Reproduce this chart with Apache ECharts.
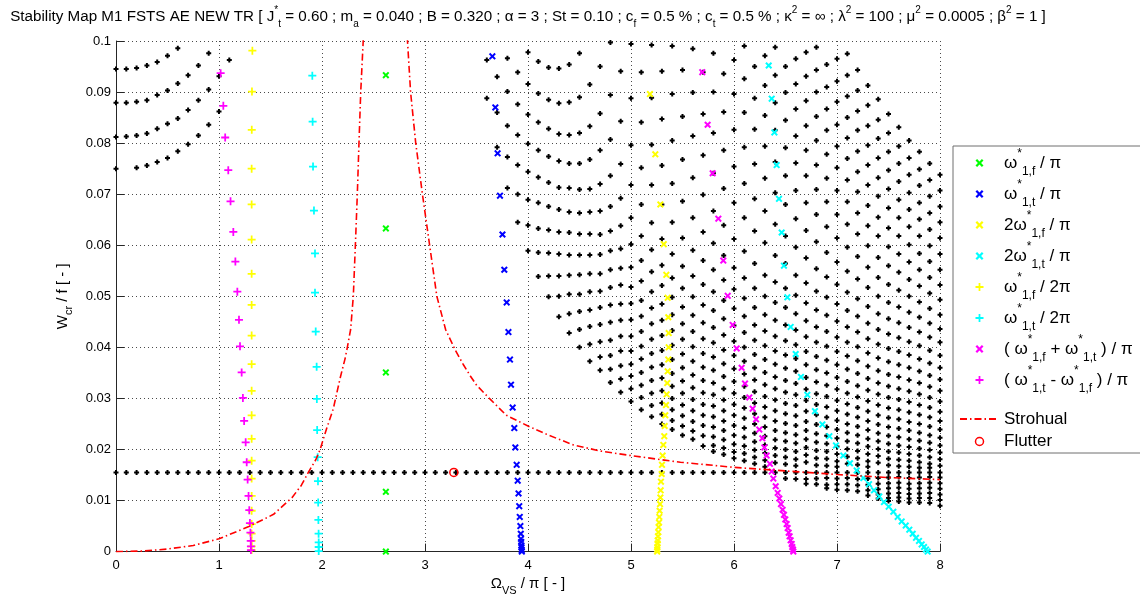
<!DOCTYPE html>
<html>
<head>
<meta charset="utf-8">
<title>Stability Map M1 FSTS AE NEW TR</title>
<script src="https://cdn.jsdelivr.net/npm/echarts@6/dist/echarts.min.js"></script>
<style>
  html, body { margin: 0; padding: 0; background: #fff; }
  #chart { width: 1140px; height: 601px; }
</style>
</head>
<body>
<div id="chart"></div>
<script>
// ---------------------------------------------------------------
// Stability map data. Abscissa: Omega_VS / pi, ordinate: W_cr / f.
// Ordinates below are stored in thousandths (x 1e-3).
// ---------------------------------------------------------------

// Abscissae of the columns of unstable grid points
const dotColumnsX = [
  0.0, 0.1, 0.2, 0.3, 0.4, 0.5, 0.6, 0.7, 0.8, 0.9, 1.0, 1.1,
  3.6, 3.7, 3.8, 3.9, 4.0, 4.1, 4.2, 4.3, 4.4, 4.5, 4.6, 4.7, 4.8, 4.9,
  5.0, 5.1, 5.2, 5.3, 5.4, 5.5, 5.6, 5.7, 5.8, 5.9,
  6.0, 6.1, 6.2, 6.3, 6.4, 6.5, 6.6, 6.7, 6.8, 6.9,
  7.0, 7.1, 7.2, 7.3, 7.4, 7.5, 7.6, 7.7, 7.8, 7.9, 8.0
];

// Ordinates (x 1e-3) of the unstable grid points, one list per column
const dotColumnsY = [
  [94.5, 87.9, 81.2, 75.0],
  [94.5, 87.9, 81.3],
  [94.7, 88.1, 81.5, 75.2],
  [95.2, 88.4, 81.9, 75.6],
  [95.9, 89.4, 82.8, 76.3],
  [97.1, 90.3, 83.8, 77.1],
  [98.6, 91.7, 84.8, 78.4],
  [93.3, 86.5, 79.8],
  [95.2, 88.4, 81.5],
  [97.6, 90.5, 83.6],
  [93.1, 86.2],
  [96.3],
  [96.3, 88.8],
  [93.0, 86.0, 79.2],
  [96.6, 90.1, 83.4, 77.3, 71.2],
  [93.9, 87.6, 81.6, 75.7, 70.0, 64.5],
  [97.8, 91.6, 85.6, 79.9, 74.4, 68.9, 63.9, 58.9],
  [96.0, 89.7, 84.1, 78.6, 73.3, 68.3, 63.3, 58.6, 53.9],
  [94.8, 88.5, 82.8, 77.4, 72.3, 67.6, 63.0, 58.5, 54.0, 49.9],
  [94.6, 87.8, 81.8, 76.5, 71.3, 67.0, 62.6, 58.3, 54.0, 50.0, 46.0],
  [95.4, 88.0, 81.6, 76.0, 71.2, 66.5, 62.5, 58.1, 54.1, 50.4, 46.6, 42.8],
  [97.6, 89.0, 82.0, 76.0, 70.9, 66.3, 62.2, 58.1, 54.2, 50.4, 47.0, 43.5, 40.0],
  [91.5, 83.3, 76.8, 71.0, 66.5, 62.2, 58.1, 54.4, 50.9, 47.3, 44.1, 40.6, 37.3],
  [95.0, 85.8, 78.6, 72.0, 66.7, 62.1, 58.2, 54.4, 51.0, 47.8, 44.5, 41.1, 38.1, 35.5],
  [99.7, 89.4, 80.7, 73.6, 67.6, 62.8, 58.9, 55.2, 51.7, 48.3, 44.9, 41.4, 38.4, 35.7, 33.1],
  [94.1, 84.3, 75.9, 69.2, 63.8, 59.3, 55.5, 52.2, 48.5, 45.3, 42.2, 39.3, 36.4, 33.8, 31.2],
  [99.4, 88.8, 79.6, 71.8, 65.4, 60.2, 55.7, 51.8, 48.6, 45.4, 42.2, 39.3, 36.7, 34.4, 31.9, 29.4],
  [93.9, 84.1, 75.2, 68.0, 61.8, 57.0, 53.0, 49.2, 46.1, 43.1, 40.2, 37.7, 35.1, 32.6, 30.2, 27.8],
  [99.2, 88.9, 79.7, 71.8, 64.4, 59.1, 54.8, 50.9, 47.7, 44.6, 41.6, 38.8, 36.1, 33.5, 31.0, 28.6, 26.4],
  [94.1, 84.7, 75.6, 68.0, 61.2, 56.1, 52.1, 48.5, 45.3, 42.3, 39.4, 36.6, 34.0, 31.5, 29.1, 26.9, 25.0],
  [99.0, 89.6, 80.5, 72.1, 64.5, 58.3, 53.6, 49.8, 46.4, 43.3, 40.4, 37.6, 34.9, 32.4, 30.0, 27.8, 25.7, 23.9],
  [94.3, 85.2, 76.8, 68.6, 61.4, 55.9, 51.6, 47.9, 44.6, 41.6, 38.7, 36.0, 33.4, 31.0, 28.7, 26.6, 24.6, 22.8],
  [98.5, 89.9, 81.4, 73.2, 65.4, 59.0, 54.0, 49.9, 46.3, 43.1, 40.1, 37.3, 34.6, 32.1, 29.8, 27.6, 25.5, 23.6, 22.0],
  [93.9, 85.7, 77.6, 69.9, 62.6, 57.0, 52.3, 48.3, 44.8, 41.7, 38.8, 36.1, 33.5, 31.1, 28.8, 26.7, 24.7, 22.7, 20.7],
  [97.6, 90.0, 82.0, 74.1, 66.7, 60.4, 55.2, 50.9, 47.2, 43.9, 40.9, 38.1, 35.5, 33.0, 30.7, 28.5, 26.4, 24.4, 22.5, 20.8, 19.6],
  [93.6, 86.1, 78.6, 71.1, 63.9, 58.0, 53.2, 49.2, 45.6, 42.4, 39.5, 36.8, 34.3, 31.9, 29.7, 27.6, 25.6, 23.7, 21.9, 20.3, 19.0],
  [96.3, 89.6, 82.6, 75.4, 68.3, 61.2, 55.6, 51.4, 47.6, 44.3, 41.2, 38.4, 35.8, 33.3, 31.0, 28.8, 26.7, 24.7, 22.8, 21.0, 19.5, 18.3],
  [99.0, 92.6, 86.0, 79.2, 72.1, 65.4, 58.8, 53.6, 49.6, 46.1, 42.9, 40.0, 37.3, 34.8, 32.4, 30.2, 28.1, 26.1, 24.2, 22.4, 20.7, 19.2, 17.8],
  [95.0, 88.8, 82.7, 75.9, 69.1, 62.8, 56.4, 51.6, 47.8, 44.4, 41.4, 38.6, 36.0, 33.6, 31.3, 29.1, 27.0, 25.0, 23.2, 21.5, 19.9, 18.5, 17.2],
  [97.1, 91.3, 85.4, 79.4, 73.1, 66.7, 60.5, 54.1, 50.0, 46.4, 43.2, 40.3, 37.6, 35.1, 32.7, 30.4, 28.3, 26.3, 24.4, 22.6, 20.9, 19.3, 17.9, 16.6],
  [98.8, 93.3, 87.9, 82.5, 76.3, 70.3, 64.1, 58.0, 52.8, 48.8, 45.3, 42.2, 39.3, 36.7, 34.2, 31.9, 29.7, 27.6, 25.6, 23.7, 21.9, 20.3, 18.8, 17.4],
  [95.0, 89.9, 84.5, 79.1, 73.6, 68.0, 61.8, 56.4, 51.6, 47.8, 44.4, 41.3, 38.5, 35.9, 33.5, 31.2, 29.0, 27.0, 25.1, 23.3, 21.6, 20.0, 18.5, 17.1, 14.3],
  [96.5, 91.6, 86.7, 81.4, 76.1, 70.7, 65.2, 59.6, 54.1, 50.2, 46.6, 43.4, 40.5, 37.8, 35.3, 32.9, 30.7, 28.6, 26.6, 24.7, 22.9, 21.2, 19.6, 18.1, 16.8, 14.2],
  [97.8, 93.1, 88.3, 83.4, 78.6, 73.6, 68.3, 62.9, 57.5, 52.6, 48.7, 45.2, 42.1, 39.2, 36.6, 34.1, 31.8, 29.6, 27.5, 25.5, 23.7, 22.0, 20.4, 18.9, 17.5, 14.2, 13.3],
  [98.8, 94.3, 90.0, 85.2, 80.5, 75.7, 70.9, 66.0, 60.7, 55.4, 51.0, 47.3, 44.0, 41.0, 38.2, 35.6, 33.2, 30.9, 28.8, 26.8, 24.9, 23.1, 21.4, 19.8, 18.3, 16.9, 14.3, 13.2],
  [95.4, 91.0, 86.7, 82.5, 77.8, 73.1, 68.5, 63.6, 58.6, 53.8, 49.8, 46.3, 43.1, 40.2, 37.5, 35.0, 32.6, 30.4, 28.3, 26.3, 24.4, 22.7, 21.1, 19.6, 18.2, 16.8, 14.4, 13.1, 12.4],
  [96.5, 92.1, 88.1, 83.6, 79.4, 75.2, 70.7, 66.0, 61.4, 56.7, 52.3, 48.5, 45.1, 42.0, 39.2, 36.6, 34.1, 31.8, 29.6, 27.6, 25.7, 23.9, 22.2, 20.6, 19.1, 17.7, 16.6, 14.3, 13.2, 12.1],
  [97.5, 93.3, 89.2, 85.0, 81.0, 77.0, 72.8, 68.5, 64.1, 59.6, 54.9, 50.8, 47.2, 44.0, 41.0, 38.3, 35.7, 33.3, 31.0, 28.9, 26.9, 25.0, 23.3, 21.6, 20.1, 18.6, 17.2, 14.4, 13.2, 12.0],
  [94.3, 90.3, 86.3, 82.5, 78.4, 74.4, 70.5, 66.3, 62.2, 57.8, 53.4, 49.5, 46.1, 43.0, 40.1, 37.4, 34.9, 32.5, 30.3, 28.2, 26.3, 24.5, 22.8, 21.2, 19.7, 18.3, 17.0, 14.2, 13.0, 11.8],
  [91.3, 87.4, 83.4, 79.6, 75.7, 71.8, 67.8, 63.8, 59.9, 55.7, 51.7, 48.0, 44.7, 41.7, 38.9, 36.3, 33.9, 31.6, 29.5, 27.5, 25.6, 23.8, 22.1, 20.6, 19.1, 17.7, 16.6, 14.3, 13.1, 12.0, 11.0],
  [88.6, 84.6, 80.9, 77.1, 73.2, 69.6, 65.5, 61.8, 57.6, 53.7, 50.0, 46.6, 43.5, 40.6, 37.9, 35.4, 33.0, 30.8, 28.7, 26.7, 24.9, 23.2, 21.6, 20.1, 18.7, 17.4, 14.4, 13.3, 12.2, 11.2, 10.4],
  [85.7, 82.0, 78.3, 74.7, 71.0, 67.3, 63.4, 59.7, 56.0, 52.3, 48.8, 45.6, 42.6, 39.8, 37.2, 34.7, 32.4, 30.2, 28.1, 26.2, 24.4, 22.7, 21.1, 19.6, 18.2, 16.9, 14.5, 13.4, 12.4, 11.4, 10.5, 9.9],
  [83.1, 79.4, 76.0, 72.5, 68.9, 65.4, 61.8, 58.3, 54.7, 51.2, 47.9, 44.8, 41.9, 39.2, 36.6, 34.2, 31.9, 29.8, 27.8, 25.9, 24.1, 22.4, 20.8, 19.4, 18.0, 16.7, 14.6, 13.5, 12.5, 11.5, 10.6, 9.8],
  [80.5, 77.1, 73.8, 70.3, 67.0, 63.6, 60.1, 56.7, 53.3, 50.0, 46.9, 43.9, 41.1, 38.5, 36.0, 33.6, 31.4, 29.3, 27.3, 25.4, 23.7, 22.0, 20.5, 19.1, 17.8, 16.6, 14.4, 13.3, 12.3, 11.3, 10.4, 9.6],
  [78.3, 74.9, 71.7, 68.3, 65.1, 61.8, 58.4, 55.2, 52.0, 48.9, 45.9, 43.0, 40.3, 37.7, 35.3, 33.0, 30.8, 28.7, 26.8, 25.0, 23.3, 21.7, 20.2, 18.8, 17.5, 16.4, 14.5, 13.4, 12.4, 11.4, 10.5, 9.6],
  [76.0, 72.8, 69.6, 66.3, 63.1, 59.9, 56.8, 53.7, 50.6, 47.6, 44.7, 42.0, 39.4, 36.9, 34.5, 32.3, 30.2, 28.2, 26.3, 24.5, 22.8, 21.3, 19.9, 18.5, 17.2, 16.4, 14.6, 13.5, 12.5, 11.5, 10.5, 9.5],
  [73.8, 70.7, 67.6, 64.5, 61.4, 58.3, 55.2, 52.2, 49.3, 46.4, 43.6, 41.0, 38.4, 36.0, 33.7, 31.5, 29.4, 27.4, 25.6, 23.9, 22.3, 20.8, 19.4, 18.1, 16.8, 14.5, 13.4, 12.3, 11.2, 10.1, 9.0]
];

// Horizontal row of unstable grid points running across the whole range
const rowLevel = 15.5;
const rowX = [
  0.0, 0.1, 0.2, 0.3, 0.4, 0.5, 0.6, 0.7, 0.8, 0.9,
  1.0, 1.1, 1.2, 1.3, 1.4, 1.5, 1.6, 1.7, 1.8, 1.9,
  2.0, 2.1, 2.2, 2.3, 2.4, 2.5, 2.6, 2.7, 2.8, 2.9,
  3.0, 3.1, 3.2, 3.3, 3.4, 3.5, 3.6, 3.7, 3.8, 3.9,
  4.0, 4.1, 4.2, 4.3, 4.4, 4.5, 4.6, 4.7, 4.8, 4.9,
  5.0, 5.1, 5.2, 5.3, 5.4, 5.5, 5.6, 5.7, 5.8, 5.9,
  6.0, 6.1, 6.2, 6.3, 6.4, 6.5, 6.6, 6.7, 6.8, 6.9,
  7.0, 7.1, 7.2, 7.3, 7.4, 7.5, 7.6, 7.7, 7.8, 7.9, 8.0
];

// Resonance lines, [Omega/pi, W/f x 1e-3]
const w1fPi = [[2.62, 93.3], [2.62, 63.3], [2.62, 35.1], [2.62, 11.7], [2.62, 0]];

const w1tPi = [
  [3.654, 97.0], [3.683, 87.0], [3.705, 78.0], [3.728, 69.7], [3.752, 62.1], [3.770, 55.2],
  [3.793, 48.8], [3.810, 43.0], [3.825, 37.6], [3.835, 32.7], [3.851, 28.2], [3.867, 24.2],
  [3.877, 20.4], [3.890, 17.0], [3.900, 13.9], [3.908, 11.4], [3.915, 8.9], [3.920, 6.8],
  [3.926, 5.0], [3.930, 3.5], [3.932, 2.5], [3.934, 1.9], [3.936, 1.2], [3.937, 0.8],
  [3.939, 0.3], [3.940, 0]
];

const twoW1fPi = [
  [5.184, 89.6], [5.236, 77.8], [5.285, 68.0], [5.318, 60.2], [5.343, 54.2], [5.356, 49.7],
  [5.362, 45.9], [5.366, 42.8], [5.366, 40.0], [5.362, 37.6], [5.356, 35.3], [5.352, 33.0],
  [5.346, 30.8], [5.340, 28.7], [5.333, 26.7], [5.327, 24.6], [5.323, 22.6], [5.314, 20.9],
  [5.307, 18.8], [5.301, 17.0], [5.298, 15.2], [5.291, 13.7], [5.288, 12.0], [5.285, 10.6],
  [5.282, 9.3], [5.278, 8.0], [5.275, 6.8], [5.272, 5.7], [5.268, 4.8], [5.265, 3.8],
  [5.262, 3.0], [5.260, 2.2], [5.258, 1.6], [5.256, 0.9], [5.255, 0.4], [5.254, 0]
];

const twoW1tPi = [
  [6.337, 95.2], [6.366, 88.7], [6.392, 82.1], [6.414, 75.7], [6.437, 69.1], [6.463, 62.5],
  [6.485, 56.0], [6.518, 49.8], [6.550, 44.0], [6.599, 38.7], [6.650, 34.2], [6.712, 30.7],
  [6.786, 27.5], [6.858, 24.9], [6.926, 22.6], [6.990, 20.8], [7.061, 18.8], [7.126, 17.3],
  [7.191, 15.9], [7.256, 14.4], [7.311, 13.2], [7.359, 12.0], [7.411, 10.8], [7.456, 9.7],
  [7.502, 8.8], [7.547, 7.8], [7.589, 6.8], [7.628, 5.9], [7.667, 5.1], [7.702, 4.3],
  [7.735, 3.5], [7.767, 2.7], [7.796, 2.1], [7.822, 1.4], [7.845, 0.9], [7.864, 0.4], [7.880, 0]
];

const w1fHalfPi = [
  [1.324, 98.1], [1.320, 90.1], [1.318, 82.6], [1.317, 75.0], [1.317, 68.0], [1.317, 61.1],
  [1.317, 54.4], [1.317, 48.3], [1.317, 42.3], [1.317, 36.7], [1.317, 31.5], [1.317, 26.7],
  [1.317, 22.1], [1.317, 17.8], [1.317, 14.3], [1.317, 10.9], [1.317, 8.0], [1.317, 5.4],
  [1.317, 3.5], [1.317, 2.1], [1.317, 1.0], [1.317, 0.3]
];

const w1tHalfPi = [
  [1.906, 93.2], [1.909, 84.2], [1.913, 75.4], [1.922, 66.8], [1.932, 58.4], [1.932, 50.7],
  [1.939, 43.1], [1.948, 36.2], [1.950, 29.9], [1.953, 23.8], [1.958, 18.5], [1.961, 13.8],
  [1.963, 9.6], [1.965, 6.2], [1.967, 3.5], [1.968, 1.8], [1.968, 0.9], [1.968, 0.1]
];

const sumPi = [
  [5.692, 93.9], [5.744, 83.6], [5.793, 74.1], [5.848, 65.2], [5.896, 57.0], [5.939, 50.1],
  [5.987, 44.4], [6.026, 39.8], [6.074, 36.0], [6.107, 32.9], [6.149, 30.2], [6.181, 28.0],
  [6.214, 25.9], [6.246, 23.9], [6.275, 22.2], [6.295, 20.4], [6.317, 18.8], [6.349, 17.2],
  [6.366, 15.7], [6.382, 14.3], [6.405, 12.8], [6.424, 11.5], [6.440, 10.4], [6.456, 9.3],
  [6.472, 8.2], [6.485, 7.2], [6.498, 6.3], [6.511, 5.4], [6.521, 4.6], [6.531, 3.7],
  [6.540, 3.0], [6.550, 2.2], [6.560, 1.5], [6.566, 0.9], [6.573, 0.4], [6.576, 0]
];

const diffPi = [
  [1.016, 93.7], [1.042, 87.3], [1.060, 81.1], [1.090, 74.7], [1.112, 68.6], [1.139, 62.6],
  [1.159, 56.8], [1.178, 50.9], [1.194, 45.4], [1.204, 40.2], [1.220, 35.1], [1.232, 30.1],
  [1.244, 25.6], [1.259, 21.4], [1.269, 17.5], [1.278, 14.1], [1.287, 10.9], [1.294, 8.1],
  [1.300, 5.6], [1.305, 3.7], [1.308, 2.1], [1.310, 1.0], [1.310, 0.3]
];

// Strouhal line, branch below and branch beyond the vertical asymptote
const strouhalLow = [
  [0, 0], [0.25, 0.1], [0.5, 0.5], [0.75, 1.2], [1.0, 2.5], [1.29, 4.9], [1.53, 7.3],
  [1.71, 10.6], [1.80, 13.0], [1.867, 15.5], [1.94, 18.0], [1.98, 19.9], [2.045, 24.1],
  [2.11, 28.0], [2.142, 30.9], [2.18, 34.3], [2.223, 37.7], [2.246, 40.0], [2.278, 43.5],
  [2.304, 50.0], [2.324, 60.0], [2.343, 70.0], [2.359, 80.0], [2.376, 90.0], [2.40, 100.0],
  [2.43, 115.0]
];
const strouhalHigh = [
  [2.81, 115.0], [2.83, 100.0], [2.86, 90.0], [2.91, 80.0], [2.975, 70.0], [3.045, 60.0],
  [3.115, 50.0], [3.20, 43.5], [3.29, 39.6], [3.37, 36.7], [3.44, 34.4], [3.50, 32.6],
  [3.63, 29.9], [3.79, 26.7], [4.0, 24.6], [4.2, 22.8], [4.44, 20.9], [4.7, 19.7],
  [5.0, 18.8], [5.48, 17.5], [6.0, 16.5], [6.5, 15.8], [7.0, 15.1], [7.5, 14.5], [8.0, 14.1]
];

// Flutter onset
const flutterPt = [[3.28, 15.5]];

// Axis ticks
const xTicks = { min: 0, max: 8, step: 1 };
const yTicks = { min: 0, max: 0.1, step: 0.01 };

// ---------------------------------------------------------------
const FONT = 'Liberation Sans, Arial, Helvetica, sans-serif';
const perMille = pts => pts.map(p => [p[0], p[1] / 1000]);

const gridPoints = [];
dotColumnsX.forEach((x, i) => {
  dotColumnsY[i].forEach(v => gridPoints.push([x, v / 1000]));
});
rowX.forEach(x => gridPoints.push([x, rowLevel / 1000]));

// Marker shapes
const DOT = 'path://M1.5,0H3.5V1.5H5V3.5H3.5V5H1.5V3.5H0V1.5H1.5Z';
const CROSS = 'path://M0,2L2,0L5,3L8,0L10,2L7,5L10,8L8,10L5,7L2,10L0,8L3,5Z';
const PLUS = 'path://M3.9,0H6.1V3.9H10V6.1H6.1V10H3.9V6.1H0V3.9H3.9Z';

const GREEN = '#00ff00', BLUE = '#0000ff', YELLOW = '#ffff00',
      CYAN = '#00ffff', MAGENTA = '#ff00ff', RED = '#ff0000';

function markerSeries(name, pts, symbol, size, color) {
  return {
    name, type: 'scatter', data: perMille(pts), symbol, symbolSize: size,
    itemStyle: { color, opacity: 1 }, silent: true, z: 3
  };
}

// Legend labels; the empty spacer boxes after "Strohual" widen that row upwards
const legendText = {
  s1: '{m|ω}{p|*}{s|1,f}{m| / π}',
  s2: '{m|ω}{p|*}{s|1,t}{m| / π}',
  s3: '{m|2ω}{p|*}{s|1,f}{m| / π}',
  s4: '{m|2ω}{p|*}{s|1,t}{m| / π}',
  s5: '{m|ω}{p|*}{s|1,f}{m| / 2π}',
  s6: '{m|ω}{p|*}{s|1,t}{m| / 2π}',
  s7: '{m|( ω}{p|*}{s|1,f}{m| + ω}{p|*}{s|1,t}{m| ) / π}',
  s8: '{m|( ω}{p|*}{s|1,t}{m| - ω}{p|*}{s|1,f}{m| ) / π}',
  st: '{ls|Strohual}{up|\u200b}{mid|\u200b}',
  fl: '{lf|Flutter}'
};

const titleText =
  '{t|Stability Map M1 FSTS AE NEW TR [ J}{tp|*}{ts|t}{t| = 0.60 ; m}{ts|a}' +
  '{t| = 0.040 ; B = 0.320 ; α = 3 ; St = 0.10 ; c}{ts|f}{t| = 0.5 % ; c}{ts|t}' +
  '{t| = 0.5 % ; κ}{tp|2}{t| = ∞ ; λ}{tp|2}{t| = 100 ; μ}{tp|2}{t| = 0.0005 ; β}{tp|2}{t| = 1 ]}';

const chart = echarts.init(document.getElementById('chart'), null, { renderer: 'canvas' });

const strouhalStyle = { color: RED, width: 1.6, type: [7, 3, 1.5, 3] };

chart.setOption({
  animation: false,
  backgroundColor: '#fff',
  title: {
    text: titleText,
    left: 523,
    top: 0,
    textAlign: 'center',
    textStyle: {
      fontFamily: FONT, fontWeight: 'normal', color: '#000',
      rich: {
        t: { fontFamily: FONT, fontSize: 15.2, lineHeight: 24, color: '#000' },
        tp: { fontFamily: FONT, fontSize: 10, lineHeight: 16, verticalAlign: 'top', color: '#000' },
        ts: { fontFamily: FONT, fontSize: 10, lineHeight: 10, verticalAlign: 'bottom', color: '#000' }
      }
    }
  },
  grid: { left: 116, right: 200, top: 41, bottom: 43, containLabel: false },
  xAxis: {
    type: 'value', min: xTicks.min, max: xTicks.max, interval: xTicks.step,
    name: '{m|Ω}{s|VS}{m| / π [ - ]}',
    nameLocation: 'middle', nameGap: 18,
    nameTextStyle: {
      rich: {
        m: { fontFamily: FONT, fontSize: 15, lineHeight: 24, color: '#000' },
        s: { fontFamily: FONT, fontSize: 11, lineHeight: 10, verticalAlign: 'bottom', color: '#000' }
      }
    },
    axisLine: { show: true, onZero: false, lineStyle: { color: '#262626', width: 1 } },
    axisTick: { show: true, inside: true, length: 8, lineStyle: { color: '#262626' } },
    axisLabel: { fontFamily: FONT, fontSize: 13, color: '#000', margin: 7 },
    splitLine: { show: true, lineStyle: { color: '#4a4a4a', width: 1, type: [1, 3] } }
  },
  yAxis: {
    type: 'value', min: yTicks.min, max: yTicks.max, interval: yTicks.step,
    name: '{m|W}{s|cr}{m| / f [ - ]}',
    nameLocation: 'middle', nameGap: 34,
    nameTextStyle: {
      rich: {
        m: { fontFamily: FONT, fontSize: 15, lineHeight: 24, color: '#000' },
        s: { fontFamily: FONT, fontSize: 11, lineHeight: 10, verticalAlign: 'bottom', color: '#000' }
      }
    },
    axisLine: { show: true, onZero: false, lineStyle: { color: '#262626', width: 1 } },
    axisTick: { show: true, inside: true, length: 8, lineStyle: { color: '#262626' } },
    axisLabel: {
      fontFamily: FONT, fontSize: 13, color: '#000', margin: 5,
      formatter: v => String(parseFloat(v.toFixed(3)))
    },
    splitLine: { show: true, lineStyle: { color: '#4a4a4a', width: 1, type: [1, 3] } }
  },
  legend: {
    orient: 'vertical',
    left: 953, top: 146,
    padding: [2, 60, 3, 6],
    itemWidth: 39, itemHeight: 8, itemGap: 1,
    backgroundColor: '#fff',
    borderColor: '#6e6e6e', borderWidth: 1, borderRadius: 0,
    selectedMode: false,
    data: [
      { name: 's1' }, { name: 's2' }, { name: 's3' }, { name: 's4' },
      { name: 's5' }, { name: 's6' }, { name: 's7' }, { name: 's8' },
      { name: 'st', itemStyle: { color: 'rgba(0,0,0,0)', borderWidth: 0, opacity: 0 } },
      { name: 'fl', itemStyle: { color: 'rgba(0,0,0,0)', borderColor: RED, borderWidth: 1.5 } }
    ],
    formatter: name => legendText[name],
    textStyle: {
      fontFamily: FONT, fontSize: 17, color: '#000',
      rich: {
        m: { fontFamily: FONT, fontSize: 17, lineHeight: 30, color: '#000' },
        p: { fontFamily: FONT, fontSize: 12, lineHeight: 20, verticalAlign: 'top', color: '#000' },
        s: { fontFamily: FONT, fontSize: 12, lineHeight: 12, verticalAlign: 'bottom', color: '#000' },
        ls: { fontFamily: FONT, fontSize: 17, lineHeight: 46, color: '#000' },
        up: { fontFamily: FONT, fontSize: 17, height: 23, verticalAlign: 'top', backgroundColor: 'rgba(255,255,255,0)' },
        mid: { fontFamily: FONT, fontSize: 17, height: 26, verticalAlign: 'middle', backgroundColor: 'rgba(255,255,255,0)' },
        lf: { fontFamily: FONT, fontSize: 17, color: '#000' }
      }
    }
  },
  series: [
    {
      name: 'grid points', type: 'scatter', data: gridPoints,
      symbol: DOT, symbolSize: 5, itemStyle: { color: '#000', opacity: 1 },
      silent: true, z: 2
    },
    markerSeries('s1', w1fPi, CROSS, 7, GREEN),
    markerSeries('s2', w1tPi, CROSS, 7, BLUE),
    markerSeries('s3', twoW1fPi, CROSS, 7, YELLOW),
    markerSeries('s4', twoW1tPi, CROSS, 7, CYAN),
    markerSeries('s5', w1fHalfPi, PLUS, 8, YELLOW),
    markerSeries('s6', w1tHalfPi, PLUS, 8, CYAN),
    markerSeries('s7', sumPi, CROSS, 7, MAGENTA),
    markerSeries('s8', diffPi, PLUS, 8, MAGENTA),
    {
      name: 'st', type: 'line', data: perMille(strouhalLow), symbol: 'none',
      lineStyle: strouhalStyle, itemStyle: { color: RED }, clip: true, silent: true, z: 4
    },
    {
      name: 'st', type: 'line', data: perMille(strouhalHigh), symbol: 'none',
      lineStyle: strouhalStyle, itemStyle: { color: RED }, clip: true, silent: true, z: 4
    },
    {
      name: 'fl', type: 'scatter', data: perMille(flutterPt), symbol: 'circle', symbolSize: 8,
      itemStyle: { color: 'rgba(0,0,0,0)', borderColor: RED, borderWidth: 1.5, opacity: 1 },
      silent: true, z: 5
    }
  ]
});
</script>
</body>
</html>
